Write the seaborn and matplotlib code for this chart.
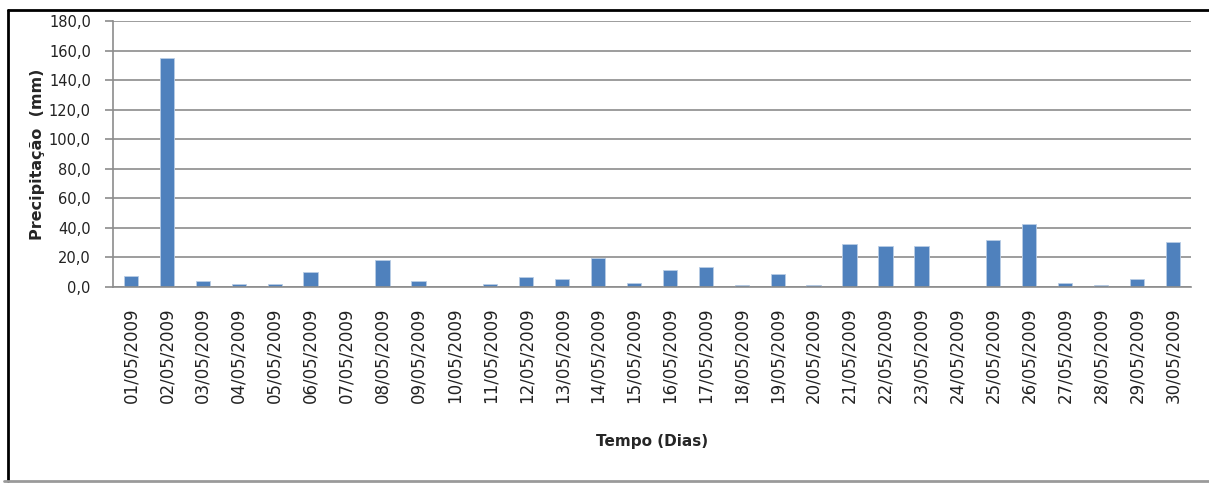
import numpy as np
import pandas as pd
import matplotlib
matplotlib.use('Agg')
import matplotlib.pyplot as plt
import seaborn as sns
from matplotlib.lines import Line2D

# dados (precipitação diária, maio de 2009)
dias = ['%02d/05/2009' % d for d in range(1, 31)]
precipitacao = [7.6, 155.0, 4.0, 1.8, 1.8, 10.1, 0.0, 18.3, 4.0, 0.0,
                1.7, 6.5, 5.2, 19.8, 2.9, 11.3, 13.8, 1.6, 8.8, 1.6,
                29.3, 27.9, 27.9, 0.0, 31.6, 42.4, 2.9, 1.6, 5.2, 30.2]
yticks = [0, 20, 40, 60, 80, 100, 120, 140, 160, 180]
ytick_labels = ['0,0', '20,0', '40,0', '60,0', '80,0', '100,0', '120,0', '140,0', '160,0', '180,0']

df = pd.DataFrame({'Dia': dias, 'Precipitacao': precipitacao})

sns.set_style('white')
plt.rcParams['font.family'] = ['DejaVu Sans']

fig = plt.figure(figsize=(12.09, 4.83), dpi=100)
ax = fig.add_axes([0.0935, 0.4058, 0.8915, 0.5507])

sns.barplot(data=df, x='Dia', y='Precipitacao', color='#4F81BD', width=0.4,
            saturation=1, edgecolor='#B9CDE5', linewidth=0.6, ax=ax)

ax.set_ylim(0, 180)
ax.set_xlim(-0.5, len(dias) - 0.5)
ax.set_yticks(yticks)
ax.set_yticklabels(ytick_labels, fontsize=10.5, color='#222222')
ax.yaxis.grid(True, color='#8C8C8C', linewidth=1.2)
ax.set_axisbelow(True)

# ticks do eixo x nas divisas entre categorias (estilo Excel)
ax.set_xticks(np.arange(len(dias)))
ax.set_xticklabels(dias, rotation=90, fontsize=12, color='#222222')
ax.tick_params(axis='x', which='major', length=0, pad=15)
ax.set_xticks(np.arange(-0.5, len(dias)), minor=True)
ax.tick_params(axis='x', which='minor', length=6, color='#8C8C8C', width=1.2)
ax.tick_params(axis='y', length=6, color='#8C8C8C', width=1.2, left=True, pad=10)

for s in ['top', 'right']:
    ax.spines[s].set_visible(False)
for s in ['left', 'bottom']:
    ax.spines[s].set_color('#8C8C8C')
    ax.spines[s].set_linewidth(1.2)

ax.set_ylabel('Precipitação  (mm)', fontsize=11.5, fontweight='bold', labelpad=3)
ax.set_xlabel('Tempo (Dias)', fontsize=11, fontweight='bold', labelpad=22)

# moldura externa
fig.add_artist(Line2D([8 / 1209, 1], [1 - 10 / 483, 1 - 10 / 483], color='black', linewidth=2))
fig.add_artist(Line2D([8 / 1209, 8 / 1209], [1 - 10 / 483, 2 / 483], color='black', linewidth=2))
fig.add_artist(Line2D([4 / 1209, 1], [2 / 483, 2 / 483], color='#9A9A9A', linewidth=2))

fig.savefig('out.png', dpi=100)
